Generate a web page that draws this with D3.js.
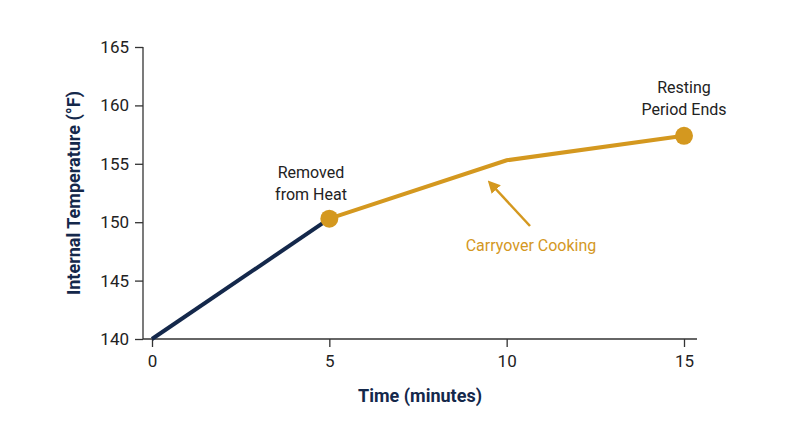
<!DOCTYPE html>
<html><head><meta charset="utf-8">
<script src="https://cdn.jsdelivr.net/npm/d3@7"></script>
<style>body{margin:0;background:#fff}text{font-family:Roboto,sans-serif}</style>
</head><body>
<svg id="c" width="800" height="447"></svg>
<script>
const times = [0, 5, 10, 15];
const temps = [140, 150.3, 155.3, 157.4];
const xTicks = [0, 5, 10, 15];
const yTicks = [140, 145, 150, 155, 160, 165];

const navy = "#14284b", gold = "#d4981f", grey = "#222";
const svg = d3.select("#c");
const x = d3.scaleLinear().domain([0, 15]).range([152, 684]);
const y = d3.scaleLinear().domain([140, 165]).range([339, 47]);

// axes
svg.append("g").attr("transform", "translate(143,0)")
  .call(d3.axisLeft(y).tickValues(yTicks).tickSize(8).tickPadding(6))
  .call(g => g.select(".domain").attr("d", "M0,47V339"));
svg.append("g").attr("transform", "translate(0,339)")
  .call(d3.axisBottom(x).tickValues(xTicks).tickSize(8).tickPadding(8))
  .call(g => g.select(".domain").attr("d", "M143,0H697"));
svg.selectAll(".tick text").attr("font-size", 17).attr("fill", grey).style("font-family", "Roboto");
svg.selectAll(".domain, .tick line").attr("stroke", "#333").attr("stroke-width", 1.3);

svg.append("text").attr("x", 420).attr("y", 402).attr("text-anchor", "middle")
  .attr("font-size", 18).attr("font-weight", "bold").attr("fill", navy).text("Time (minutes)");
svg.append("text").attr("transform", "translate(80,193) rotate(-90)").attr("text-anchor", "middle")
  .attr("font-size", 18).attr("font-weight", "bold").attr("fill", navy).text("Internal Temperature (°F)");

const pts = times.map((t, i) => [x(t), y(temps[i])]);
const line = d3.line();
svg.append("path").attr("d", line(pts.slice(0, 2))).attr("stroke", navy).attr("stroke-width", 4).attr("fill", "none");
svg.append("path").attr("d", line(pts.slice(1))).attr("stroke", gold).attr("stroke-width", 4).attr("fill", "none");
[1, 3].forEach(i => svg.append("circle").attr("cx", pts[i][0]).attr("cy", pts[i][1]).attr("r", 9).attr("fill", gold));

// annotations
const lab = (xx, yy, lines, fill) => {
  const t = svg.append("text").attr("x", xx).attr("y", yy).attr("text-anchor", "middle")
    .attr("font-size", 16).attr("fill", fill);
  lines.forEach((s, i) => t.append("tspan").attr("x", xx).attr("dy", i ? 22 : 0).text(s));
};
lab(311, 178, ["Removed", "from Heat"], grey);
lab(684, 93, ["Resting", "Period Ends"], grey);
lab(531, 251, ["Carryover Cooking"], gold);

svg.append("defs").append("marker").attr("id", "ah").attr("viewBox", "0 0 10 10")
  .attr("refX", 5).attr("refY", 5).attr("markerWidth", 5).attr("markerHeight", 5).attr("orient", "auto")
  .append("path").attr("d", "M0,0L10,5L0,10z").attr("fill", gold);
svg.append("line").attr("x1", 530).attr("y1", 226).attr("x2", 492).attr("y2", 185)
  .attr("stroke", gold).attr("stroke-width", 2.5).attr("marker-end", "url(#ah)");
</script>
</body></html>
